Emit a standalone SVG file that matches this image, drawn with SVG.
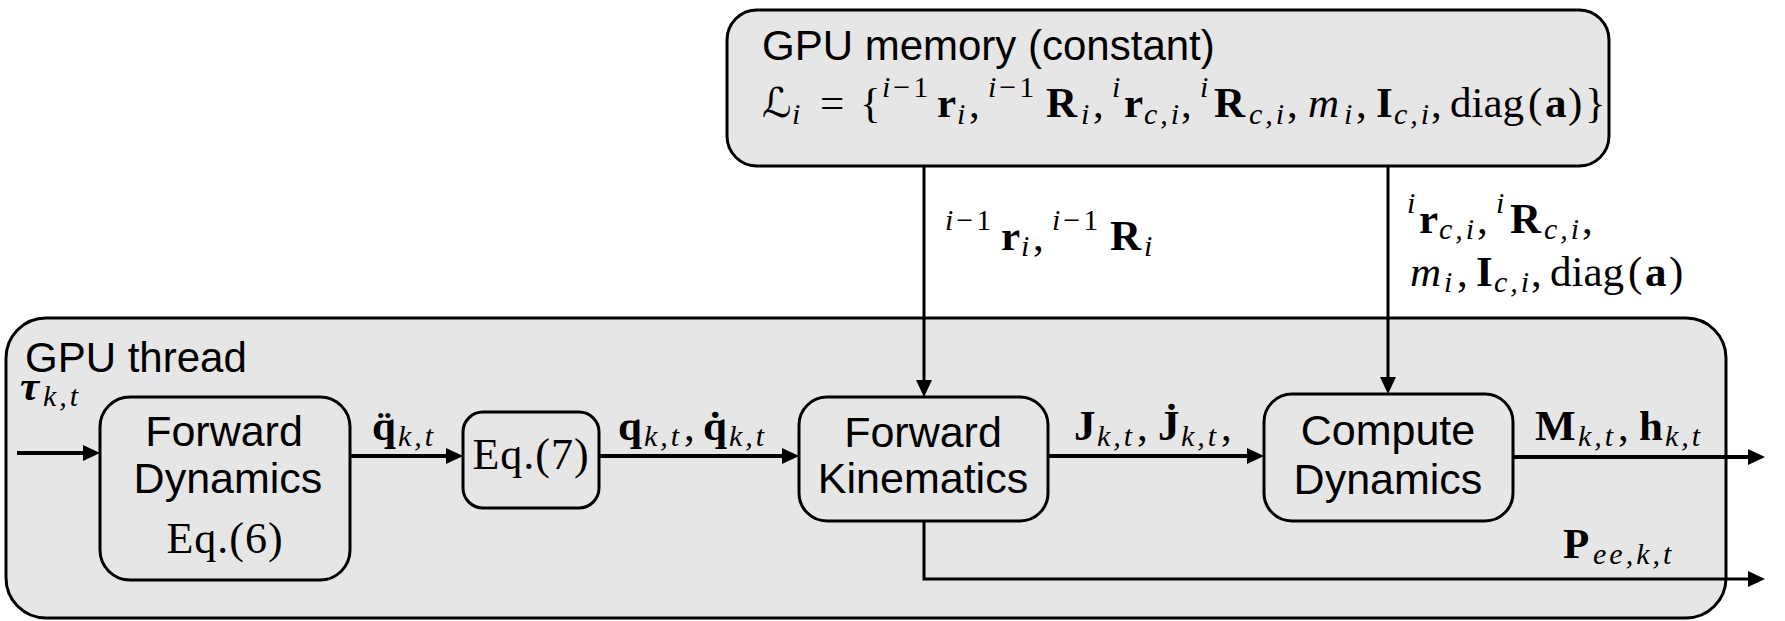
<svg xmlns="http://www.w3.org/2000/svg" width="1785" height="621" viewBox="0 0 1785 621">
<defs>
<style>
.box{fill:#e6e6e6;stroke:#000;stroke-width:3}
.sans{font-family:"Liberation Sans",Arial,Helvetica,sans-serif;font-size:43px;fill:#000}
.title{font-size:42px}
.mid{text-anchor:middle}
.m{font-family:"Liberation Serif","Times New Roman",serif;font-size:43px;fill:#000}
.eq{font-size:44px;letter-spacing:1px}
.b{font-weight:bold}
.i{font-style:italic}
.s{font-size:30px;letter-spacing:3px}
.cal{font-family:"DejaVu Serif","DejaVu Sans",serif;font-size:41px}
.wire{fill:none;stroke:#000;stroke-width:4}
.thin{stroke-width:3}
</style>
<marker id="ah" markerUnits="userSpaceOnUse" viewBox="0 0 17 16" refX="9" refY="8" markerWidth="17" markerHeight="16" orient="auto">
<path d="M0,0 L17,8 L0,16 z" fill="#000"/>
</marker>
</defs>
<rect width="1785" height="621" fill="#fff"/>

<g id="gpu-memory">
<rect class="box" x="727" y="10" width="882" height="156" rx="30"/>
<text class="sans title" x="762" y="60">GPU memory (constant)</text>
<text class="m">
<tspan class="cal" x="762" y="117">ℒ</tspan><tspan class="s i" x="792" y="124">i</tspan>
<tspan x="820" y="117">=</tspan>
<tspan x="860" y="117">{</tspan>
<tspan class="s" x="882" y="97"><tspan class="i">i</tspan>−1</tspan><tspan class="b" x="937" y="117">r</tspan><tspan class="s i" x="957" y="124">i</tspan><tspan x="969" y="117">,</tspan>
<tspan class="s" x="988" y="97"><tspan class="i">i</tspan>−1</tspan><tspan class="b" x="1046" y="117">R</tspan><tspan class="s i" x="1081" y="124">i</tspan><tspan x="1093" y="117">,</tspan>
<tspan class="s i" x="1112" y="97">i</tspan><tspan class="b" x="1124" y="117">r</tspan><tspan class="s i" x="1144" y="124">c,i</tspan><tspan x="1181" y="117">,</tspan>
<tspan class="s i" x="1200" y="97">i</tspan><tspan class="b" x="1214" y="117">R</tspan><tspan class="s i" x="1249" y="124">c,i</tspan><tspan x="1287" y="117">,</tspan>
<tspan class="i" x="1308" y="117">m</tspan><tspan class="s i" x="1344" y="124">i</tspan><tspan x="1356" y="117">,</tspan>
<tspan class="b" x="1376" y="117">I</tspan><tspan class="s i" x="1394" y="124">c,i</tspan><tspan x="1431" y="117">,</tspan>
<tspan x="1450" y="117">diag</tspan><tspan x="1528" y="117">(</tspan><tspan class="b" x="1545" y="117">a</tspan><tspan x="1568" y="117">)</tspan><tspan x="1585" y="117">}</tspan>
</text>
</g>

<g id="gpu-thread">
<rect class="box" x="6" y="318" width="1720" height="300" rx="40"/>
<text class="sans title" x="25" y="372">GPU thread</text>
</g>

<g id="forward-dynamics">
<rect class="box" x="100" y="397" width="250" height="183" rx="30"/>
<text class="sans mid" x="224" y="446">Forward</text>
<text class="sans mid" x="228" y="493">Dynamics</text>
<text class="m eq mid" x="225" y="553">Eq.(6)</text>
</g>

<g id="eq7">
<rect class="box" x="463" y="412" width="136" height="96" rx="20"/>
<text class="m eq mid" x="531" y="469">Eq.(7)</text>
</g>

<g id="forward-kinematics">
<rect class="box" x="799" y="397" width="249" height="124" rx="28"/>
<text class="sans mid" x="923" y="447">Forward</text>
<text class="sans mid" x="923" y="493">Kinematics</text>
</g>

<g id="compute-dynamics">
<rect class="box" x="1264" y="394" width="249" height="127" rx="28"/>
<text class="sans mid" x="1388" y="445">Compute</text>
<text class="sans mid" x="1388" y="494">Dynamics</text>
</g>

<g id="connectors">
<path class="wire" d="M17,453 H92" marker-end="url(#ah)"/>
<path class="wire" d="M350,456 H455" marker-end="url(#ah)"/>
<path class="wire" d="M599,456 H791" marker-end="url(#ah)"/>
<path class="wire" d="M1048,456 H1256" marker-end="url(#ah)"/>
<path class="wire" d="M1513,457 H1757" marker-end="url(#ah)"/>
<path class="wire thin" d="M924,521 V579 H1757" marker-end="url(#ah)"/>
<path class="wire thin" d="M924,166 V389" marker-end="url(#ah)"/>
<path class="wire thin" d="M1388,166 V386" marker-end="url(#ah)"/>

<text class="m"><tspan class="b i" x="20" y="400">τ</tspan><tspan class="s i" x="43" y="406">k,t</tspan></text>

<text class="m"><tspan class="b" x="372" y="440">q̈</tspan><tspan class="s i" x="398" y="446">k,t</tspan></text>

<text class="m"><tspan class="b" x="618" y="440">q</tspan><tspan class="s i" x="644" y="446">k,t</tspan><tspan x="684" y="440">,</tspan><tspan class="b" x="703" y="440">q̇</tspan><tspan class="s i" x="729" y="446">k,t</tspan></text>

<text class="m"><tspan class="b" x="1074" y="440">J</tspan><tspan class="s i" x="1097" y="446">k,t</tspan><tspan x="1137" y="440">,</tspan><tspan class="b" x="1158" y="440">J̇</tspan><tspan class="s i" x="1181" y="446">k,t</tspan><tspan x="1221" y="440">,</tspan></text>

<text class="m"><tspan class="b" x="1535" y="440">M</tspan><tspan class="s i" x="1578" y="446">k,t</tspan><tspan x="1618" y="440">,</tspan><tspan class="b" x="1639" y="440">h</tspan><tspan class="s i" x="1665" y="446">k,t</tspan></text>

<text class="m"><tspan class="b" x="1563" y="558">P</tspan><tspan class="s i" x="1593" y="564">ee,k,t</tspan></text>

<text class="m"><tspan class="s" x="945" y="230"><tspan class="i">i</tspan>−1</tspan><tspan class="b" x="1001" y="250">r</tspan><tspan class="s i" x="1021" y="256">i</tspan><tspan x="1033" y="250">,</tspan><tspan class="s" x="1052" y="230"><tspan class="i">i</tspan>−1</tspan><tspan class="b" x="1110" y="250">R</tspan><tspan class="s i" x="1144" y="256">i</tspan></text>

<text class="m"><tspan class="s i" x="1407" y="213">i</tspan><tspan class="b" x="1419" y="233">r</tspan><tspan class="s i" x="1439" y="239">c,i</tspan><tspan x="1477" y="233">,</tspan><tspan class="s i" x="1496" y="213">i</tspan><tspan class="b" x="1510" y="233">R</tspan><tspan class="s i" x="1544" y="239">c,i</tspan><tspan x="1582" y="233">,</tspan></text>

<text class="m"><tspan class="i" x="1410" y="286">m</tspan><tspan class="s i" x="1444" y="292">i</tspan><tspan x="1457" y="286">,</tspan><tspan class="b" x="1476" y="286">I</tspan><tspan class="s i" x="1494" y="292">c,i</tspan><tspan x="1531" y="286">,</tspan><tspan x="1550" y="286">diag</tspan><tspan x="1628" y="286">(</tspan><tspan class="b" x="1645" y="286">a</tspan><tspan x="1669" y="286">)</tspan></text>
</g>
</svg>
